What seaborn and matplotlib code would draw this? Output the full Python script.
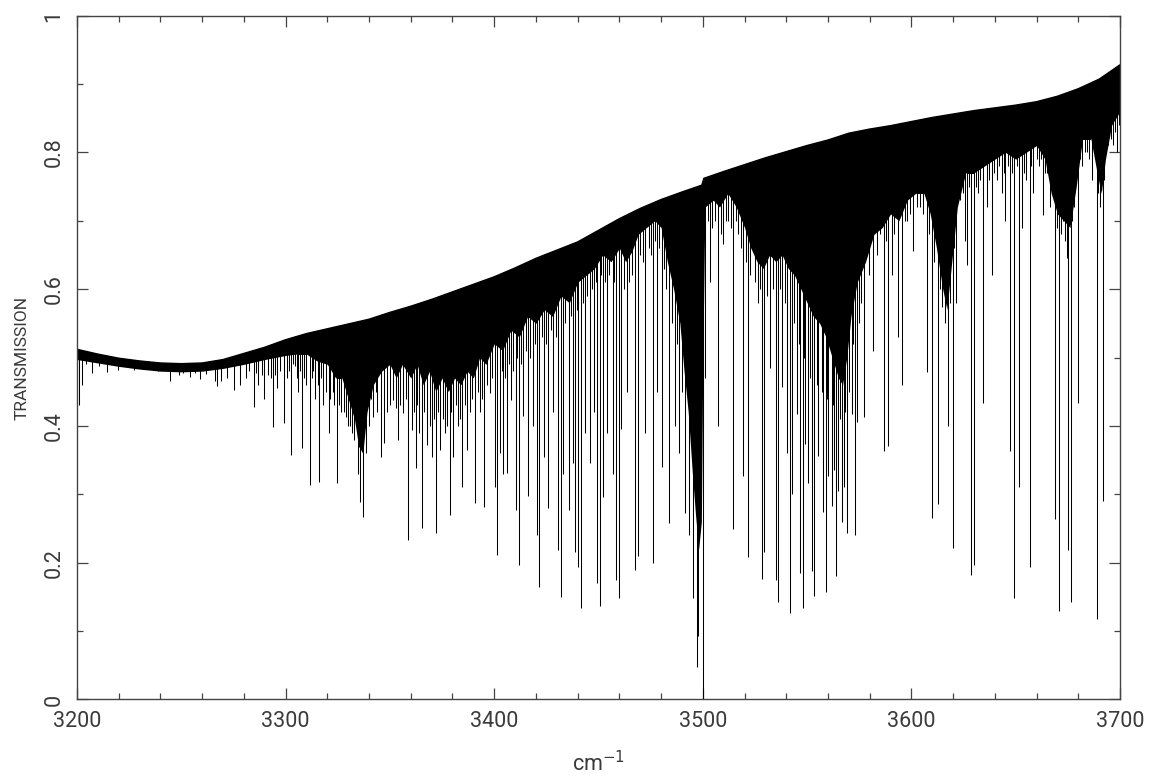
import numpy as np
import matplotlib
matplotlib.use("Agg")
import matplotlib.pyplot as plt
import seaborn as sns
from matplotlib.patches import Polygon
from matplotlib.ticker import MultipleLocator, FormatStrFormatter

# upper envelope (continuum) of the spectrum
cont_x = [3200, 3210, 3220, 3230, 3240, 3250, 3260, 3270, 3280, 3290,
          3300, 3310, 3320, 3330, 3340, 3350, 3360, 3370, 3380, 3390,
          3400, 3410, 3420, 3430, 3440, 3450, 3460, 3470, 3480, 3490,
          3499.5, 3500.5, 3510, 3520, 3530, 3540, 3550, 3560, 3570, 3580,
          3590, 3600, 3610, 3620, 3630, 3640, 3650, 3660, 3670, 3680,
          3690, 3700]
cont_y = [0.512, 0.505, 0.499, 0.495, 0.492, 0.491, 0.492, 0.497, 0.506, 0.515,
          0.526, 0.535, 0.542, 0.549, 0.556, 0.566, 0.575, 0.585, 0.596, 0.607,
          0.618, 0.631, 0.645, 0.657, 0.669, 0.686, 0.703, 0.718, 0.731, 0.742,
          0.752, 0.762, 0.772, 0.782, 0.792, 0.801, 0.810, 0.818, 0.828, 0.834,
          0.839, 0.845, 0.851, 0.856, 0.861, 0.865, 0.869, 0.874, 0.882, 0.893,
          0.907, 0.928]

# lower edge of the unresolved (solid black) band of lines
band_x = [3200, 3210, 3220, 3230, 3240, 3250, 3260, 3270, 3280, 3290,
          3300, 3305, 3310, 3315, 3320, 3324, 3327, 3330, 3333, 3335,
          3337, 3339, 3342, 3346, 3350, 3353, 3356, 3360, 3363, 3366,
          3369, 3372, 3375, 3378, 3381, 3384, 3387, 3390, 3393, 3396,
          3400, 3404, 3408, 3412, 3416, 3420, 3424, 3428, 3432, 3436,
          3440, 3444, 3448, 3452, 3456, 3460, 3463, 3466, 3469, 3473,
          3477, 3480, 3483, 3486, 3489, 3491, 3493, 3495, 3496.5, 3498,
          3499.3, 3500, 3501, 3505, 3508, 3512, 3516, 3520, 3523, 3526,
          3529, 3532, 3535, 3538, 3541, 3544, 3547, 3550, 3553, 3556,
          3559, 3562, 3565, 3567, 3569, 3571, 3574, 3578, 3582, 3586,
          3590, 3594, 3598, 3602, 3606, 3609, 3612, 3615, 3617, 3619,
          3622, 3626, 3630, 3635, 3640, 3645, 3650, 3655, 3660, 3664,
          3667, 3670, 3673, 3676, 3679, 3682, 3686, 3689, 3691, 3693,
          3696, 3700]
band_lo = [0.497, 0.492, 0.487, 0.483, 0.480, 0.479, 0.480, 0.484, 0.490, 0.497,
           0.503, 0.505, 0.505, 0.495, 0.490, 0.470, 0.470, 0.440, 0.410, 0.370,
           0.360, 0.420, 0.460, 0.480, 0.490, 0.470, 0.490, 0.470, 0.490, 0.460,
           0.480, 0.450, 0.470, 0.450, 0.470, 0.460, 0.480, 0.470, 0.500, 0.490,
           0.520, 0.510, 0.540, 0.530, 0.560, 0.550, 0.570, 0.560, 0.590, 0.580,
           0.610, 0.620, 0.630, 0.650, 0.640, 0.660, 0.640, 0.655, 0.680, 0.690,
           0.700, 0.690, 0.640, 0.600, 0.550, 0.480, 0.420, 0.330, 0.270, 0.220,
           0.260, 0.500, 0.720, 0.730, 0.720, 0.740, 0.720, 0.690, 0.660, 0.640,
           0.630, 0.650, 0.640, 0.650, 0.630, 0.620, 0.600, 0.580, 0.560, 0.550,
           0.530, 0.500, 0.470, 0.460, 0.500, 0.560, 0.610, 0.640, 0.680, 0.690,
           0.710, 0.700, 0.730, 0.740, 0.740, 0.710, 0.660, 0.600, 0.570, 0.630,
           0.720, 0.770, 0.770, 0.780, 0.790, 0.800, 0.790, 0.800, 0.810, 0.790,
           0.740, 0.710, 0.700, 0.690, 0.750, 0.820, 0.820, 0.770, 0.740, 0.790,
           0.840, 0.860]

# resolved absorption lines: position (cm-1) and minimum transmission
line_x = [3200.8, 3202.4, 3204.5, 3207.0, 3210.5, 3214.4, 3217.0, 3219.5, 3223.0, 3227.3,
          3231.0, 3235.0, 3239.0, 3242.0, 3244.7, 3248.7, 3251.0, 3254.3, 3256.5, 3258.8,
          3262.0, 3266.0, 3267.1, 3269.0, 3272.0, 3275.3, 3278.3, 3281.0, 3284.7, 3287.0,
          3289.8, 3291.5, 3294.0, 3296.0, 3299.2, 3300.8, 3302.7, 3304.7, 3306.0, 3308.0,
          3310.0, 3311.7, 3314.0, 3316.2, 3318.0, 3320.7, 3322.5, 3324.6, 3326.5, 3329.1,
          3331.0, 3333.0, 3335.8, 3337.0, 3339.8, 3342.0, 3344.0, 3345.9, 3347.3, 3350.0,
          3351.6, 3352.9, 3354.0, 3356.4, 3358.5, 3360.4, 3362.4, 3364.0, 3365.5, 3367.6,
          3370.0, 3372.1, 3374.0, 3376.4, 3378.8, 3380.4, 3382.8, 3384.5, 3387.1, 3390.8,
          3393.1, 3395.3, 3398.0, 3400.4, 3401.5, 3402.8, 3404.0, 3406.3, 3408.0, 3410.5,
          3412.0, 3414.0, 3416.0, 3418.5, 3420.4, 3421.6, 3424.0, 3426.0, 3428.4, 3430.7,
          3431.8, 3432.9, 3435.9, 3437.7, 3438.8, 3440.3, 3441.5, 3443.5, 3445.7, 3447.9,
          3449.4, 3450.7, 3452.0, 3454.0, 3456.8, 3458.4, 3459.9, 3460.8, 3463.5, 3467.3,
          3468.8, 3472.4, 3476.0, 3478.0, 3480.4, 3484.0, 3486.7, 3488.8, 3491.3, 3493.4,
          3495.4, 3497.0, 3497.7, 3499.9, 3500.3, 3501.0, 3503.5, 3507.1, 3509.9, 3512.0,
          3514.5, 3517.0, 3519.4, 3521.8, 3523.4, 3526.6, 3528.4, 3529.5, 3532.2, 3535.2,
          3535.9, 3537.8, 3540.5, 3541.8, 3542.9, 3545.0, 3546.6, 3547.9, 3549.0, 3550.4,
          3552.2, 3553.5, 3555.4, 3557.8, 3558.9, 3560.2, 3561.8, 3563.1, 3563.9, 3565.0,
          3566.6, 3567.9, 3569.0, 3571.4, 3573.0, 3573.8, 3575.0, 3577.4, 3581.8, 3585.0,
          3586.7, 3589.0, 3590.5, 3593.7, 3595.7, 3598.0, 3600.9, 3604.0, 3607.3, 3609.7,
          3612.8, 3614.8, 3617.7, 3619.8, 3621.4, 3623.5, 3625.7, 3626.5, 3628.6, 3629.8,
          3632.0, 3634.2, 3636.0, 3638.5, 3641.0, 3643.3, 3645.0, 3647.3, 3649.3, 3651.5,
          3652.9, 3655.0, 3656.6, 3658.5, 3661.0, 3663.2, 3665.0, 3668.9, 3670.9, 3672.5,
          3674.4, 3675.1, 3676.5, 3678.0, 3679.9, 3682.0, 3684.0, 3686.4, 3688.8, 3690.4,
          3691.7, 3693.0, 3694.4, 3696.6, 3698.5]
line_y = [0.430, 0.460, 0.490, 0.477, 0.488, 0.479, 0.490, 0.482, 0.487, 0.482,
          0.484, 0.483, 0.480, 0.482, 0.466, 0.474, 0.478, 0.471, 0.477, 0.468,
          0.476, 0.466, 0.458, 0.465, 0.470, 0.452, 0.460, 0.470, 0.428, 0.460,
          0.440, 0.475, 0.398, 0.455, 0.404, 0.470, 0.357, 0.487, 0.450, 0.367,
          0.460, 0.313, 0.440, 0.318, 0.430, 0.390, 0.450, 0.316, 0.420, 0.413,
          0.400, 0.380, 0.289, 0.267, 0.400, 0.413, 0.420, 0.355, 0.375, 0.430,
          0.438, 0.426, 0.379, 0.419, 0.233, 0.394, 0.338, 0.390, 0.250, 0.372,
          0.355, 0.243, 0.365, 0.390, 0.270, 0.355, 0.400, 0.311, 0.365, 0.287,
          0.420, 0.282, 0.448, 0.311, 0.211, 0.360, 0.330, 0.331, 0.438, 0.277,
          0.197, 0.414, 0.297, 0.400, 0.240, 0.165, 0.355, 0.280, 0.420, 0.219,
          0.150, 0.330, 0.277, 0.346, 0.215, 0.194, 0.134, 0.390, 0.346, 0.420,
          0.170, 0.136, 0.296, 0.390, 0.330, 0.175, 0.148, 0.395, 0.450, 0.190,
          0.210, 0.390, 0.200, 0.450, 0.340, 0.258, 0.400, 0.360, 0.272, 0.240,
          0.148, 0.048, 0.093, 0.000, 0.395, 0.470, 0.610, 0.400, 0.666, 0.700,
          0.249, 0.680, 0.327, 0.208, 0.690, 0.580, 0.176, 0.216, 0.485, 0.174,
          0.143, 0.457, 0.361, 0.126, 0.300, 0.417, 0.185, 0.134, 0.373, 0.316,
          0.188, 0.151, 0.356, 0.274, 0.157, 0.327, 0.283, 0.336, 0.181, 0.305,
          0.260, 0.310, 0.243, 0.417, 0.240, 0.406, 0.550, 0.413, 0.510, 0.680,
          0.364, 0.370, 0.620, 0.530, 0.460, 0.700, 0.655, 0.720, 0.479, 0.266,
          0.286, 0.574, 0.400, 0.222, 0.580, 0.730, 0.670, 0.635, 0.182, 0.196,
          0.740, 0.434, 0.720, 0.620, 0.760, 0.740, 0.700, 0.364, 0.148, 0.310,
          0.690, 0.760, 0.193, 0.740, 0.780, 0.708, 0.770, 0.264, 0.130, 0.700,
          0.645, 0.219, 0.142, 0.720, 0.434, 0.780, 0.800, 0.760, 0.118, 0.720,
          0.290, 0.790, 0.810, 0.810, 0.800]

# weaker lines forming the ragged fringe below the solid band
weak_x = [3282.5, 3285.8, 3288.5, 3292.8, 3295.0, 3297.5, 3301.5, 3303.5, 3305.5, 3307.0,
          3309.0, 3312.5, 3313.3, 3315.3, 3317.2, 3319.3, 3321.5, 3323.3, 3325.5, 3327.8,
          3330.0, 3332.0, 3334.5, 3338.5, 3341.0, 3343.5, 3348.5, 3355.0, 3357.5, 3361.5,
          3363.0, 3366.5, 3369.0, 3371.0, 3373.0, 3375.5, 3377.5, 3379.5, 3381.5, 3383.5,
          3386.0, 3388.5, 3389.5, 3392.0, 3394.2, 3396.7, 3399.0, 3403.5, 3405.0, 3407.0,
          3409.2, 3411.0, 3413.0, 3415.0, 3417.3, 3419.5, 3422.8, 3425.0, 3427.2, 3429.5,
          3434.0, 3436.8, 3439.5, 3442.5, 3444.6, 3446.8, 3448.6, 3451.0, 3453.0, 3455.0,
          3457.5, 3462.0, 3464.5, 3466.0, 3470.0, 3471.5, 3474.0, 3475.0, 3477.2, 3479.0,
          3481.5, 3482.5, 3485.0, 3487.5, 3490.0, 3502.3, 3504.5, 3506.0, 3508.5, 3511.0,
          3513.3, 3515.8, 3518.2, 3520.5, 3522.5, 3524.8, 3527.5, 3530.8, 3533.5, 3536.8,
          3539.2, 3543.8, 3546.0, 3548.5, 3551.5, 3554.5, 3557.0, 3559.5, 3562.5, 3565.8,
          3568.3, 3570.2, 3572.2, 3576.0, 3579.5, 3583.3, 3587.8, 3591.8, 3596.8, 3599.5,
          3602.5, 3605.5, 3608.3, 3611.0, 3613.7, 3616.0, 3618.5, 3620.6, 3624.5, 3627.5,
          3631.0, 3633.0, 3637.0, 3639.8, 3642.0, 3644.2, 3646.2, 3648.3, 3650.5, 3654.0,
          3657.5, 3660.0, 3662.0, 3664.0, 3666.5, 3669.8, 3671.7, 3673.5, 3677.2, 3681.0,
          3683.0, 3685.0, 3687.5, 3689.6, 3692.2, 3695.5, 3697.5, 3699.3]
weak_y = [0.480, 0.478, 0.475, 0.470, 0.475, 0.480, 0.480, 0.490, 0.470, 0.480,
          0.470, 0.470, 0.480, 0.460, 0.470, 0.450, 0.440, 0.430, 0.430, 0.420,
          0.400, 0.390, 0.330, 0.360, 0.440, 0.450, 0.420, 0.430, 0.440, 0.420,
          0.430, 0.420, 0.400, 0.410, 0.420, 0.410, 0.400, 0.420, 0.430, 0.410,
          0.430, 0.420, 0.440, 0.450, 0.440, 0.460, 0.470, 0.480, 0.470, 0.490,
          0.480, 0.500, 0.490, 0.510, 0.500, 0.520, 0.530, 0.520, 0.540, 0.530,
          0.550, 0.560, 0.570, 0.580, 0.590, 0.600, 0.610, 0.620, 0.610, 0.620,
          0.610, 0.600, 0.610, 0.620, 0.650, 0.640, 0.660, 0.650, 0.670, 0.660,
          0.630, 0.600, 0.550, 0.520, 0.450, 0.700, 0.690, 0.700, 0.680, 0.700,
          0.690, 0.700, 0.660, 0.640, 0.620, 0.610, 0.600, 0.590, 0.600, 0.600,
          0.580, 0.550, 0.520, 0.500, 0.470, 0.460, 0.450, 0.440, 0.430, 0.410,
          0.420, 0.450, 0.520, 0.580, 0.620, 0.650, 0.670, 0.680, 0.700, 0.710,
          0.720, 0.710, 0.680, 0.640, 0.600, 0.550, 0.580, 0.660, 0.740, 0.750,
          0.750, 0.760, 0.760, 0.770, 0.780, 0.770, 0.780, 0.770, 0.780, 0.770,
          0.780, 0.790, 0.790, 0.770, 0.720, 0.690, 0.680, 0.670, 0.700, 0.790,
          0.800, 0.790, 0.800, 0.740, 0.760, 0.820, 0.830, 0.840]

x_ticks = [3200, 3300, 3400, 3500, 3600, 3700]
y_ticks = [0, 0.2, 0.4, 0.6, 0.8, 1]

sns.set_theme(style="ticks")
plt.rcParams['font.family'] = ['Roboto', 'DejaVu Sans']
text_col = '#3a3a3a'

fig, ax = plt.subplots(figsize=(11.51, 7.76), dpi=100)
fig.subplots_adjust(left=0.0669, right=0.9731, bottom=0.0986, top=0.980)

# area under the continuum: lines and band are clipped to it
clip_poly = Polygon(list(zip(cont_x, cont_y)) + [(3700, -0.1), (3200, -0.1)],
                    closed=True, transform=ax.transData, fc='none', ec='none')
ax.add_patch(clip_poly)

band = ax.fill_between(band_x, band_lo, 1.0, color='black', lw=0)
band.set_clip_path(clip_poly)
vl = ax.vlines(line_x, line_y, 1.0, colors='black', lw=0.75)
vl.set_clip_path(clip_poly)
vw = ax.vlines(weak_x, weak_y, 1.0, colors='black', lw=0.75)
vw.set_clip_path(clip_poly)
sns.lineplot(x=cont_x, y=cont_y, color='black', lw=1.0, ax=ax)

ax.set_xlim(3200, 3700)
ax.set_ylim(0, 1)
ax.set_xticks(x_ticks)
ax.set_yticks(y_ticks)
ax.xaxis.set_minor_locator(MultipleLocator(20))
ax.yaxis.set_minor_locator(MultipleLocator(0.1))
ax.yaxis.set_major_formatter(FormatStrFormatter('%g'))

for s in ax.spines.values():
    s.set_color('#444444')
    s.set_linewidth(1.0)
ax.tick_params(which='both', direction='in', top=True, right=True,
               color='#444444', width=0.9, labelcolor=text_col)
ax.tick_params(which='major', length=8, labelsize=15.5)
ax.tick_params(which='minor', length=4.5)
ax.tick_params(axis='x', which='major', pad=8)
ax.tick_params(axis='y', which='major', pad=9)
for lab in ax.get_yticklabels():
    lab.set_rotation(90)
    lab.set_va('center')

ax.set_xlabel('cm$^{-1}$', fontsize=15.5, color=text_col, labelpad=14)
ax.set_ylabel('TRANSMISSION', fontsize=12.5, color=text_col, labelpad=10)

fig.savefig('out.png', dpi=100, facecolor='white')
